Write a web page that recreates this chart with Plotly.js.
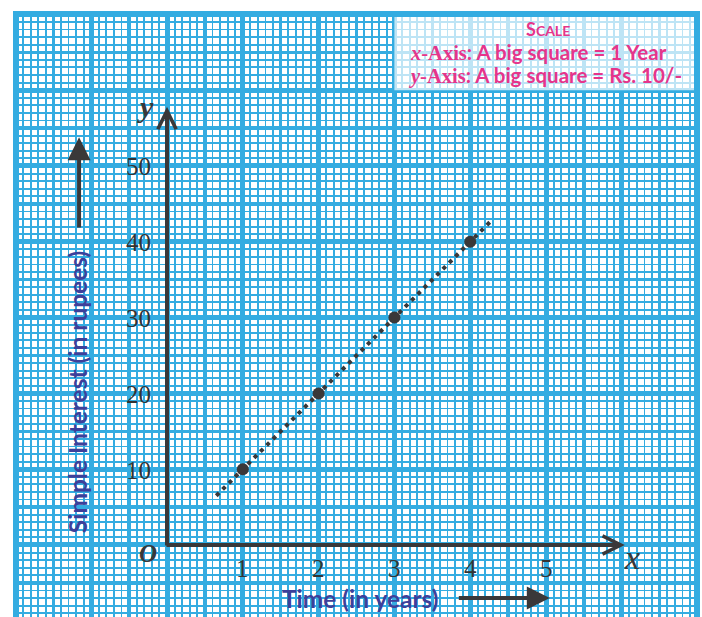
<!DOCTYPE html>
<html>
<head>
<meta charset="utf-8">
<script src="https://cdn.plot.ly/plotly-3.0.1.min.js"></script>
<style>html,body{margin:0;padding:0;background:#fff;}#chart{width:702px;height:617px;}</style>
</head>
<body>
<div id="chart"></div>
<script>
// ---- data ----
const years = [1, 2, 3, 4];
const interest = [10, 20, 30, 40];
const lineYears = [0.65, 4.26];
const lineInterest = [6.5, 42.6];
const xTickVals = [1, 2, 3, 4, 5];
const yTickVals = [10, 20, 30, 40, 50];
const xAxisTitle = 'Time (in years)';
const yAxisTitle = 'Simple Interest (in rupees)';
const scaleLines = [
  'S<span style="font-size:14px">CALE</span>',
  '<span style="font-family:Liberation Serif"><i>x</i>-Axis</span>: A big square = 1 Year',
  '<span style="font-family:Liberation Serif"><i>y</i>-Axis</span>: A big square = Rs. 10/-'
];

const BLUE = '#34ace1';
const INK = '#3a3839';
const PINK = '#e5358b';
const NAVY = '#3d409a';
const XR = [-1.992, 6.992];
const YR = [-9.5, 70.05];

const traces = [
  {x: lineYears, y: lineInterest, mode: 'lines', line: {color: INK, width: 4, dash: '4px,4.9px'}, hoverinfo: 'skip', showlegend: false},
  {x: years, y: interest, mode: 'markers', marker: {color: INK, size: 12}, hoverinfo: 'skip', showlegend: false},
  {x: [null], y: [null], xaxis: 'x2', yaxis: 'y2', mode: 'markers', hoverinfo: 'skip', showlegend: false}
];

const ann = [];
yTickVals.forEach(v => ann.push({x: 0, y: v, xref: 'x', yref: 'y', text: String(v), showarrow: false,
  xanchor: 'right', yanchor: 'middle', xshift: -14, yshift: -1,
  font: {family: 'Liberation Serif', size: 25, color: '#333'}}));
xTickVals.forEach(v => ann.push({x: v, y: 0, xref: 'x', yref: 'y', text: String(v), showarrow: false,
  xanchor: 'center', yanchor: 'top', yshift: -8,
  font: {family: 'Liberation Serif', size: 25, color: '#333'}}));
// axes with chevron heads
ann.push({x: 0, y: 57.8, ax: 0, ay: -0.27, xref: 'x', yref: 'y', axref: 'x', ayref: 'y', text: '', showarrow: true,
  arrowhead: 5, arrowwidth: 4, arrowsize: 0.9, arrowcolor: INK});
ann.push({x: 6.04, y: 0, ax: -0.027, ay: 0, xref: 'x', yref: 'y', axref: 'x', ayref: 'y', text: '', showarrow: true,
  arrowhead: 5, arrowwidth: 4, arrowsize: 0.9, arrowcolor: INK});
// big arrows beside titles
ann.push({x: -1.16, y: 53.8, ax: -1.16, ay: 41.7, xref: 'x', yref: 'y', axref: 'x', ayref: 'y', text: '', showarrow: true,
  arrowhead: 2, arrowwidth: 4, arrowsize: 1.15, arrowcolor: INK});
ann.push({x: 5.05, y: -7.0, ax: 3.83, ay: -7.0, xref: 'x', yref: 'y', axref: 'x', ayref: 'y', text: '', showarrow: true,
  arrowhead: 2, arrowwidth: 4, arrowsize: 1.15, arrowcolor: INK});
// axis titles
ann.push({x: -1.17, y: 20.2, xref: 'x', yref: 'y', text: '<b>' + yAxisTitle + '</b>', textangle: -90, showarrow: false,
  font: {family: 'Lato', size: 24.5, color: NAVY}});
ann.push({x: 2.55, y: -7.0, xref: 'x', yref: 'y', text: '<b>' + xAxisTitle + '</b>', showarrow: false,
  font: {family: 'Lato', size: 24.5, color: NAVY}});
// axis letters
ann.push({x: -0.25, y: -1.1, xref: 'x', yref: 'y', text: '<b><i>O</i></b>', showarrow: false,
  font: {family: 'Liberation Serif', size: 25, color: INK}});
ann.push({x: 6.13, y: -1.7, xref: 'x', yref: 'y', text: '<i>x</i>', showarrow: false,
  font: {family: 'Liberation Serif', size: 34, color: INK}});
ann.push({x: -0.29, y: 57.8, xref: 'x', yref: 'y', text: '<b><i>y</i></b>', showarrow: false,
  font: {family: 'Liberation Serif', size: 30, color: INK}});
// scale box text
ann.push({x: 5.02, y: 68.1, xref: 'x', yref: 'y', text: '<b>' + scaleLines[0] + '</b>', showarrow: false,
  font: {family: 'Lato', size: 18, color: PINK}});
ann.push({x: 3.18, y: 65.0, xref: 'x', yref: 'y', xanchor: 'left', text: '<b>' + scaleLines[1] + '</b>', showarrow: false,
  font: {family: 'Lato', size: 20.5, color: PINK}});
ann.push({x: 3.15, y: 62.0, xref: 'x', yref: 'y', xanchor: 'left', text: '<b>' + scaleLines[2] + '</b>', showarrow: false,
  font: {family: 'Lato', size: 20.5, color: PINK}});

const axBase = {showticklabels: false, ticks: '', zeroline: false, showline: false, fixedrange: true};

const layout = {
  width: 702, height: 617,
  margin: {l: 16, r: 5, t: 14, b: 0, pad: 0},
  paper_bgcolor: '#fff', plot_bgcolor: '#fff',
  showlegend: false,
  xaxis: Object.assign({}, axBase, {range: XR, dtick: 1, tick0: 0, showgrid: true, gridcolor: BLUE, gridwidth: 5,
    minor: {dtick: 0.1, tick0: 0, showgrid: true, gridcolor: BLUE, gridwidth: 1.9, ticks: ''}}),
  yaxis: Object.assign({}, axBase, {range: YR, dtick: 10, tick0: 0, showgrid: true, gridcolor: BLUE, gridwidth: 5,
    minor: {dtick: 1, tick0: 0, showgrid: true, gridcolor: BLUE, gridwidth: 1.9, ticks: ''}}),
  xaxis2: Object.assign({}, axBase, {range: XR, overlaying: 'x', anchor: 'y2', dtick: 1, tick0: 0.5, showgrid: true, gridcolor: BLUE, gridwidth: 3.3}),
  yaxis2: Object.assign({}, axBase, {range: YR, overlaying: 'y', anchor: 'x2', dtick: 10, tick0: 5, showgrid: true, gridcolor: BLUE, gridwidth: 3.3}),
  shapes: [
    {type: 'rect', xref: 'x', yref: 'y', x0: 3, x1: XR[1], y0: 60, y1: YR[1], layer: 'above',
      fillcolor: 'rgba(255,255,255,0.68)', line: {width: 0}},
    {type: 'path', xref: 'paper', yref: 'paper', path: 'M0,-0.1 L0,1 L1,1 L1,-0.1', layer: 'above',
      line: {color: BLUE, width: 6}}
  ],
  annotations: ann
};

Plotly.newPlot('chart', traces, layout, {displayModeBar: false, staticPlot: true});
</script>
</body>
</html>
